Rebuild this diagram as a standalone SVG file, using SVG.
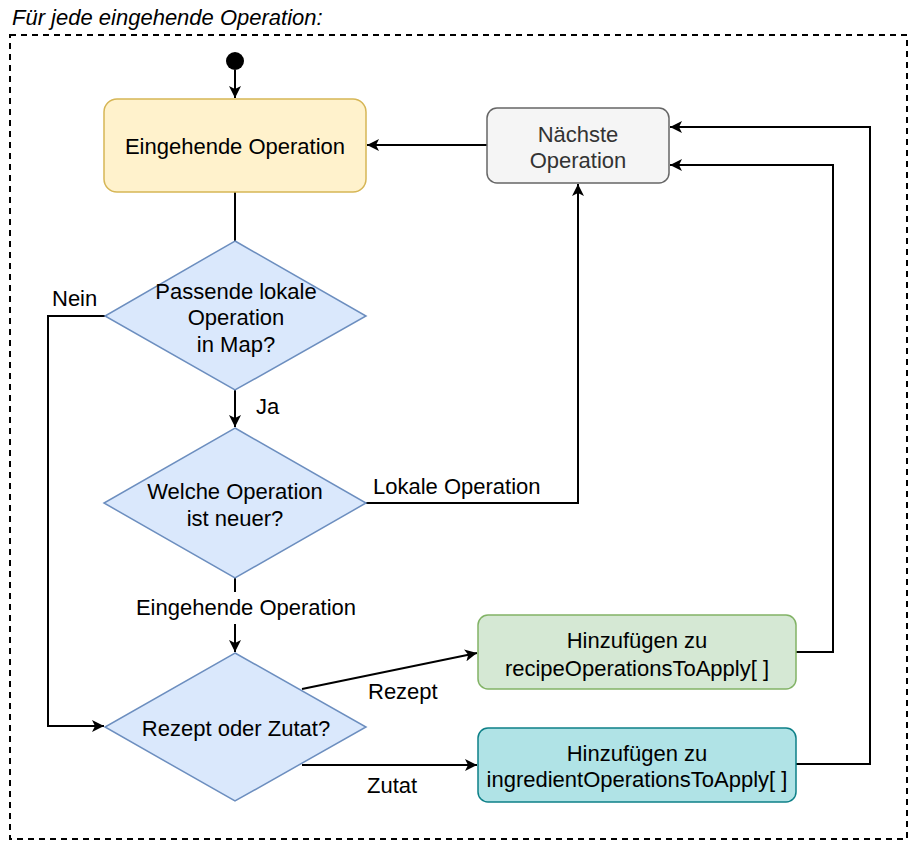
<svg xmlns="http://www.w3.org/2000/svg" width="918" height="850" viewBox="0 0 918 850">
<style>
text{font-family:"Liberation Sans",Arial,sans-serif;font-size:22px;fill:#000}
.c{text-anchor:middle}
.ln{fill:none;stroke:#000;stroke-width:2}
.dia{fill:#dae8fc;stroke:#6c8ebf;stroke-width:1.5}
</style>
<defs>
<marker id="ah" markerUnits="userSpaceOnUse" markerWidth="14" markerHeight="12" refX="12" refY="6" orient="auto">
<path d="M0,0 L12,6 L0,12 L3,6 Z" fill="#000"/>
</marker>
</defs>
<rect width="918" height="850" fill="#fff"/>
<text x="12" y="25" font-style="italic">Für jede eingehende Operation:</text>
<rect id="frame" x="10" y="35" width="897" height="804" fill="none" stroke="#000" stroke-width="2" stroke-dasharray="6,5"/>

<g id="connectors">
<path class="ln" d="M235,70 L235,98" marker-end="url(#ah)"/>
<path class="ln" d="M487,145 L367,145" marker-end="url(#ah)"/>
<path class="ln" d="M235,192 L235,241"/>
<path class="ln" d="M105,316 L48,316 L48,726 L104,726" marker-end="url(#ah)"/>
<path class="ln" d="M235,390 L235,427" marker-end="url(#ah)"/>
<path class="ln" d="M366,503 L578,503 L578,184" marker-end="url(#ah)"/>
<path class="ln" d="M235,578 L235,652" marker-end="url(#ah)"/>
<path class="ln" d="M302,689 L477,653" marker-end="url(#ah)"/>
<path class="ln" d="M302,765 L477,765" marker-end="url(#ah)"/>
<path class="ln" d="M796,652 L833,652 L833,165 L670,165" marker-end="url(#ah)"/>
<path class="ln" d="M796,764 L870,764 L870,127 L670,127" marker-end="url(#ah)"/>
<text x="52" y="306">Nein</text>
<text x="256" y="414">Ja</text>
<text x="373" y="494">Lokale Operation</text>
<rect x="132" y="592" width="230" height="32" fill="#fff"/>
<text class="c" x="246" y="615">Eingehende Operation</text>
<text x="368" y="699">Rezept</text>
<text x="367" y="793">Zutat</text>
</g>

<g id="start">
<circle cx="235" cy="61" r="9" fill="#000"/>
</g>
<g id="eingehende">
<rect x="104" y="99" width="262" height="93" rx="13" fill="#fff2cc" stroke="#d6b656" stroke-width="1.5"/>
<text class="c" x="235" y="154">Eingehende Operation</text>
</g>
<g id="naechste">
<rect x="487" y="108" width="182" height="75" rx="10" fill="#f5f5f5" stroke="#666" stroke-width="1.5"/>
<text class="c" x="578" y="142" style="fill:#333">Nächste</text>
<text class="c" x="578" y="168" style="fill:#333">Operation</text>
</g>
<g id="passende">
<path class="dia" d="M235,241 L366,316 L235,390 L105,316 Z"/>
<text class="c" x="236" y="299">Passende lokale</text>
<text class="c" x="236" y="325">Operation</text>
<text class="c" x="236" y="352">in Map?</text>
</g>
<g id="welche">
<path class="dia" d="M235,428 L366,503 L235,578 L104,503 Z"/>
<text class="c" x="235" y="499">Welche Operation</text>
<text class="c" x="235" y="526">ist neuer?</text>
</g>
<g id="rezeptzutat">
<path class="dia" d="M235,653 L366,727 L235,801 L105,727 Z"/>
<text class="c" x="236" y="736">Rezept oder Zutat?</text>
</g>
<g id="recipe">
<rect x="478" y="615" width="318" height="74" rx="10" fill="#d5e8d4" stroke="#82b366" stroke-width="1.5"/>
<text class="c" x="637" y="648">Hinzufügen zu</text>
<text class="c" x="637" y="676">recipeOperationsToApply[ ]</text>
</g>
<g id="ingredient">
<rect x="478" y="728" width="318" height="74" rx="10" fill="#b0e3e6" stroke="#0e8088" stroke-width="1.5"/>
<text class="c" x="637" y="761">Hinzufügen zu</text>
<text class="c" x="637" y="787">ingredientOperationsToApply[ ]</text>
</g>
</svg>
